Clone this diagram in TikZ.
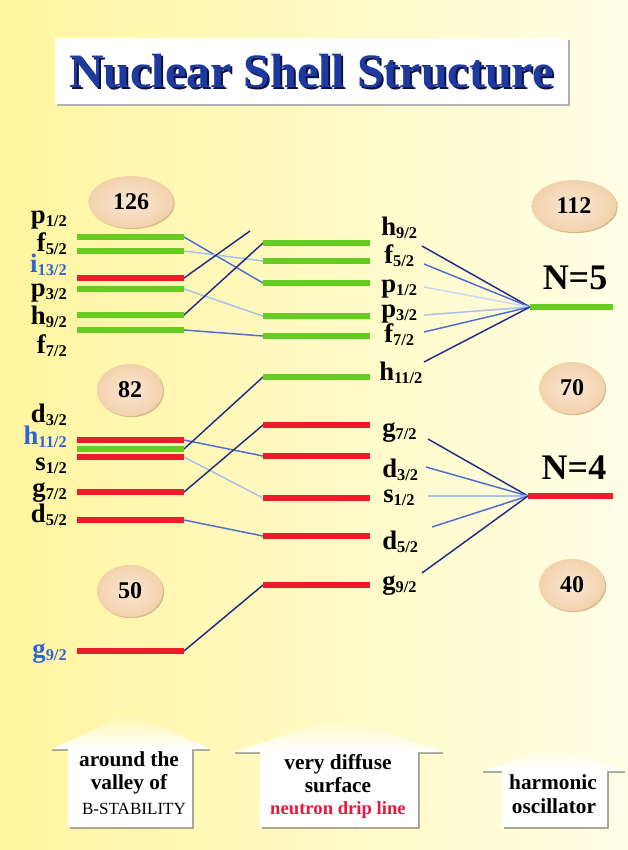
\documentclass[tikz,border=0pt]{standalone}
\usepackage{fontspec}
\setmainfont{Liberation Serif}
\usetikzlibrary{shapes.geometric,shadows}

\definecolor{bgL}{HTML}{FFF5A0}
\definecolor{bgR}{HTML}{FFFEE6}
\definecolor{lvgreen}{HTML}{66CC22}
\definecolor{lvred}{HTML}{EE1C2A}
\definecolor{cdark}{HTML}{1E2D86}
\definecolor{cmid}{HTML}{4B6ED0}
\definecolor{clight}{HTML}{A9C0EC}
\definecolor{cpale}{HTML}{C9D7F2}
\definecolor{lblue}{HTML}{2F62D8}
\definecolor{ttlblue}{HTML}{1F3A9F}
\definecolor{ttlshade}{HTML}{0A1240}
\definecolor{peachin}{HTML}{FBE7D2}
\definecolor{peachout}{HTML}{F2D2AC}
\definecolor{peachrim}{HTML}{D9B98E}
\definecolor{boxshade}{HTML}{A9A996}
\definecolor{driplabel}{HTML}{E8193C}

% orbital label: letter with lowered j subscript
\newcommand\orb[2]{#1\raisebox{-2.6pt}{\fontsize{12.3}{12.3}\selectfont #2}}

\tikzset{
  lvG/.style={draw=lvgreen,line width=3.8pt},
  lvR/.style={draw=lvred,line width=3.8pt},
  link/.style={line width=1.1pt},
  lab/.style={inner sep=0pt,font=\fontsize{20}{20}\selectfont\bfseries},
  labL/.style={lab,anchor=base east},
  labM/.style={lab,anchor=base west},
  ovalbase/.style={ellipse,inner sep=0pt,inner color=peachin,outer color=peachout,
    font=\fontsize{18}{19}\selectfont\bfseries,
    drop shadow={shadow xshift=0.9pt,shadow yshift=-0.9pt,fill=peachrim,opacity=1}},
  ovalW/.style={ovalbase,minimum width=63.75pt,minimum height=39pt},
  ovalN/.style={ovalbase,minimum width=49.5pt,minimum height=39pt},
  nlab/.style={inner sep=0pt,font=\fontsize{27}{28}\selectfont\bfseries},
  arrtxt/.style={inner sep=0pt,anchor=base,font=\fontsize{16}{17}\selectfont\bfseries},
}

\begin{document}
\begin{tikzpicture}[x=0.75pt,y=-0.75pt]
\useasboundingbox (0,0) rectangle (628,850);
\shade[left color=bgL,right color=bgR] (0,0) rectangle (628,850);

% ---------- title ----------
\node[fill=white,minimum width=384.75pt,minimum height=49.5pt,inner sep=0pt,
  drop shadow={shadow xshift=1.8pt,shadow yshift=-1.8pt,fill=black!30,opacity=1}]
  (ttlbox) at (311.5,71) {};
\node[text=ttlshade,font=\fontsize{36}{40}\selectfont\bfseries,inner sep=0pt]
  (ttlsh) at ([xshift=1.3pt,yshift=-1.3pt]ttlbox.center) {Nuclear Shell Structure};
\node[text=ttlblue,font=\fontsize{36}{40}\selectfont\bfseries,inner sep=0pt]
  (ttl) at (ttlbox.center) {Nuclear Shell Structure};

% ---------- level end points ----------
% left column (around the valley of stability)
\coordinate (lp1a) at (77,237);  \coordinate (lp1b) at (184,237);
\coordinate (lf5a) at (77,251);  \coordinate (lf5b) at (184,251);
\coordinate (li13a) at (77,278); \coordinate (li13b) at (184,278);
\coordinate (lp3a) at (77,289);  \coordinate (lp3b) at (184,289);
\coordinate (lh9a) at (77,315);  \coordinate (lh9b) at (184,315);
\coordinate (lf7a) at (77,330);  \coordinate (lf7b) at (184,330);
\coordinate (ld3a) at (77,440);  \coordinate (ld3b) at (184,440);
\coordinate (lh11a) at (77,449); \coordinate (lh11b) at (184,449);
\coordinate (ls1a) at (77,457);  \coordinate (ls1b) at (184,457);
\coordinate (lg7a) at (77,492);  \coordinate (lg7b) at (184,492);
\coordinate (ld5a) at (77,520);  \coordinate (ld5b) at (184,520);
\coordinate (lg9a) at (77,651);  \coordinate (lg9b) at (184,651);
% middle column (very diffuse surface)
\coordinate (mh9a) at (263,243);  \coordinate (mh9b) at (370,243);
\coordinate (mf5a) at (263,261);  \coordinate (mf5b) at (370,261);
\coordinate (mp1a) at (263,283);  \coordinate (mp1b) at (370,283);
\coordinate (mp3a) at (263,316);  \coordinate (mp3b) at (370,316);
\coordinate (mf7a) at (263,336);  \coordinate (mf7b) at (370,336);
\coordinate (mh11a) at (263,377); \coordinate (mh11b) at (370,377);
\coordinate (mg7a) at (263,425);  \coordinate (mg7b) at (370,425);
\coordinate (md3a) at (263,456);  \coordinate (md3b) at (370,456);
\coordinate (ms1a) at (263,498);  \coordinate (ms1b) at (370,498);
\coordinate (md5a) at (263,536);  \coordinate (md5b) at (370,536);
\coordinate (mg9a) at (263,585);  \coordinate (mg9b) at (370,585);
% harmonic oscillator shells
\coordinate (n5a) at (530,307); \coordinate (n5b) at (613,307);
\coordinate (n4a) at (528,496); \coordinate (n4b) at (613,496);
% free ends
\coordinate (i13up) at (250,231);
\coordinate (fh9) at (422,246);  \coordinate (ff5) at (424,264);
\coordinate (fp1) at (424,287);  \coordinate (fp3) at (424,315);
\coordinate (ff7) at (424,332);  \coordinate (fh11) at (424,362);
\coordinate (fg7) at (428,439);  \coordinate (fd3) at (426,467);
\coordinate (fs1) at (428,496);  \coordinate (fd5) at (432,527);
\coordinate (fg9) at (422,573);

% ---------- correlation lines ----------
\draw[link,cmid]   (lp1b) -- (mp1a);
\draw[link,clight] (lf5b) -- (mf5a);
\draw[link,cdark]  (li13b) -- (i13up);
\draw[link,clight] (lp3b) -- (mp3a);
\draw[link,cdark]  (lh9b) -- (mh9a);
\draw[link,cmid]   (lf7b) -- (mf7a);
\draw[link,cmid]   (ld3b) -- (md3a);
\draw[link,cdark]  (lh11b) -- (mh11a);
\draw[link,clight] (ls1b) -- (ms1a);
\draw[link,cdark]  (lg7b) -- (mg7a);
\draw[link,cmid]   (ld5b) -- (md5a);
\draw[link,cdark]  (lg9b) -- (mg9a);
% fans into the oscillator shells
\draw[link,cdark]  (fh9) -- (n5a);
\draw[link,cmid]   (ff5) -- (n5a);
\draw[link,cpale]  (fp1) -- (n5a);
\draw[link,clight] (fp3) -- (n5a);
\draw[link,cmid]   (ff7) -- (n5a);
\draw[link,cdark]  (fh11) -- (n5a);
\draw[link,cdark]  (fg7) -- (n4a);
\draw[link,cmid]   (fd3) -- (n4a);
\draw[link,clight] (fs1) -- (n4a);
\draw[link,cmid]   (fd5) -- (n4a);
\draw[link,cdark]  (fg9) -- (n4a);

% ---------- levels ----------
\draw[lvG] (lp1a) -- (lp1b);
\draw[lvG] (lf5a) -- (lf5b);
\draw[lvR] (li13a) -- (li13b);
\draw[lvG] (lp3a) -- (lp3b);
\draw[lvG] (lh9a) -- (lh9b);
\draw[lvG] (lf7a) -- (lf7b);
\draw[lvR] (ld3a) -- (ld3b);
\draw[lvG] (lh11a) -- (lh11b);
\draw[lvR] (ls1a) -- (ls1b);
\draw[lvR] (lg7a) -- (lg7b);
\draw[lvR] (ld5a) -- (ld5b);
\draw[lvR] (lg9a) -- (lg9b);
\draw[lvG] (mh9a) -- (mh9b);
\draw[lvG] (mf5a) -- (mf5b);
\draw[lvG] (mp1a) -- (mp1b);
\draw[lvG] (mp3a) -- (mp3b);
\draw[lvG] (mf7a) -- (mf7b);
\draw[lvG] (mh11a) -- (mh11b);
\draw[lvR] (mg7a) -- (mg7b);
\draw[lvR] (md3a) -- (md3b);
\draw[lvR] (ms1a) -- (ms1b);
\draw[lvR] (md5a) -- (md5b);
\draw[lvR] (mg9a) -- (mg9b);
\draw[lvG] (n5a) -- (n5b);
\draw[lvR] (n4a) -- (n4b);

% ---------- orbital labels ----------
\node[labL] (tp1L) at (67,223) {\orb{p}{1/2}};
\node[labL] (tf5L) at (67,251) {\orb{f}{5/2}};
\node[labL,text=lblue] (ti13L) at (67,272) {\orb{i}{13/2}};
\node[labL] (tp3L) at (67,296) {\orb{p}{3/2}};
\node[labL] (th9L) at (67,324) {\orb{h}{9/2}};
\node[labL] (tf7L) at (67,353) {\orb{f}{7/2}};
\node[labL] (td3L) at (67,422) {\orb{d}{3/2}};
\node[labL,text=lblue] (th11L) at (67,444) {\orb{h}{11/2}};
\node[labL] (ts1L) at (67,470) {\orb{s}{1/2}};
\node[labL] (tg7L) at (67,496) {\orb{g}{7/2}};
\node[labL] (td5L) at (67,522) {\orb{d}{5/2}};
\node[labL,text=lblue] (tg9L) at (67,657) {\orb{g}{9/2}};

\node[labM] (th9M) at (381,235) {\orb{h}{9/2}};
\node[labM] (tf5M) at (384,263) {\orb{f}{5/2}};
\node[labM] (tp1M) at (381,292) {\orb{p}{1/2}};
\node[labM] (tp3M) at (381,317) {\orb{p}{3/2}};
\node[labM] (tf7M) at (384,342) {\orb{f}{7/2}};
\node[labM] (th11M) at (379,380) {\orb{h}{11/2}};
\node[labM] (tg7M) at (382,436) {\orb{g}{7/2}};
\node[labM] (td3M) at (382,477) {\orb{d}{3/2}};
\node[labM] (ts1M) at (383,502) {\orb{s}{1/2}};
\node[labM] (td5M) at (382,549) {\orb{d}{5/2}};
\node[labM] (tg9M) at (382,589) {\orb{g}{9/2}};

% ---------- magic numbers ----------
\node[ovalW] (o126) at (131,202) {126};
\node[ovalN] (o82)  at (130,390) {82};
\node[ovalN] (o50)  at (130,591) {50};
\node[ovalW] (o112) at (574,206) {112};
\node[ovalN] (o70)  at (572,388) {70};
\node[ovalN] (o40)  at (572,585) {40};

\node[nlab] (tN5) at (575,278) {N=5};
\node[nlab] (tN4) at (574,468) {N=4};

% ---------- bottom up-arrows ----------
% around the valley of stability
\fill[boxshade] (70,751) rectangle (194,829);
\draw[boxshade,line width=0.9pt] (52,750) -- (68,750) (192,750) -- (210,750);
\shade[top color=bgL!85!bgR,bottom color=white] (52,749) -- (130,713) -- (210,749) -- cycle;
\fill[white] (68,749) rectangle (192,827);
% very diffuse surface
\fill[boxshade] (262,754) rectangle (420,829);
\draw[boxshade,line width=0.9pt] (235,753) -- (260,753) (418,753) -- (443,753);
\shade[top color=bgL!55!bgR,bottom color=white] (235,752) -- (339,717) -- (443,752) -- cycle;
\fill[white] (260,752) rectangle (418,827);
% harmonic oscillator
\fill[boxshade] (504,773) rectangle (609,829);
\draw[boxshade,line width=0.9pt] (483,772) -- (502,772) (607,772) -- (625,772);
\shade[top color=bgL!15!bgR,bottom color=white] (483,771) -- (554,747) -- (625,771) -- cycle;
\fill[white] (502,771) rectangle (607,827);

\node[arrtxt] (a1l1) at (129,766) {around the};
\node[arrtxt] (a1l2) at (129,789) {valley of};
\node[arrtxt,font=\fontsize{12.8}{13}\selectfont] (a1l3) at (134,814) {B-STABILITY};
\node[arrtxt] (a2l1) at (338,769) {very diffuse};
\node[arrtxt] (a2l2) at (338,792) {surface};
\node[arrtxt,text=driplabel,font=\fontsize{14}{15}\selectfont\bfseries] (a2l3) at (338,814) {neutron drip line};
\node[arrtxt] (a3l1) at (553,789) {harmonic};
\node[arrtxt] (a3l2) at (554,813) {oscillator};
\end{tikzpicture}
\end{document}
